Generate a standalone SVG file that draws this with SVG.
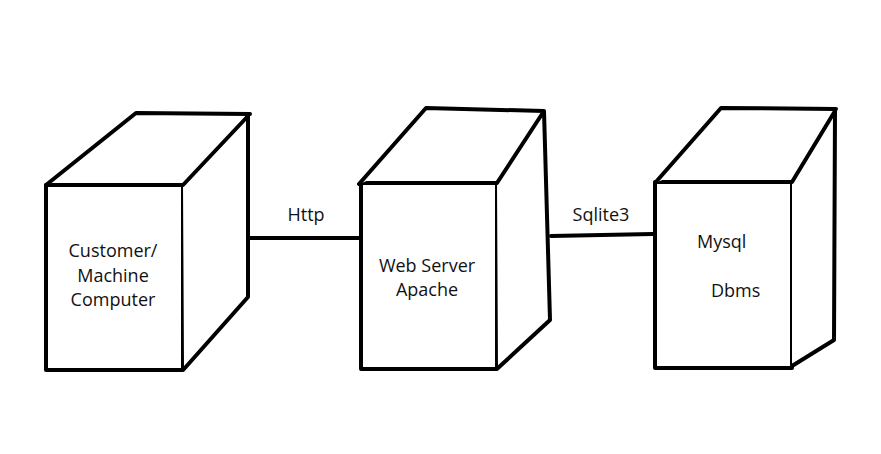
<svg xmlns="http://www.w3.org/2000/svg" width="881" height="454" viewBox="0 0 881 454">
<style>
.edge{fill:none;stroke:#000;stroke-width:4;stroke-linecap:round;stroke-linejoin:round}
.box{fill:#fff;stroke:#000;stroke-width:4;stroke-linejoin:round;stroke-linecap:round}
.t{font-family:"Open Sans","Liberation Sans",sans-serif;font-size:18px;fill:#111}
</style>
<rect width="881" height="454" fill="#fff"/>
<g id="connectors">
<line class="edge" x1="249" y1="238" x2="360" y2="238"/>
<line class="edge" x1="551" y1="236" x2="653" y2="234"/>
<text class="t" x="306" y="221" text-anchor="middle">Http</text>
<text class="t" x="601" y="221" text-anchor="middle">Sqlite3</text>
</g>
<g id="customer">
<rect class="box" x="46" y="185" width="137" height="185"/>
<path class="box" d="M46 185 L136 113 L250 114 M183 185 L248 116 L248 297 L184 369"/>
<text class="t" x="113" y="257" text-anchor="middle">Customer/</text>
<text class="t" x="113" y="282" text-anchor="middle">Machine</text>
<text class="t" x="113" y="306" text-anchor="middle">Computer</text>
</g>
<g id="webserver">
<rect class="box" x="361" y="183" width="136" height="186"/>
<path class="box" d="M359 184 L426 108 L544 111 M497 183 L544 111 L550 320 L498 368"/>
<text class="t" x="427" y="272" text-anchor="middle">Web Server</text>
<text class="t" x="427" y="296" text-anchor="middle">Apache</text>
</g>
<g id="mysql">
<rect class="box" x="655" y="182" width="137" height="186"/>
<path class="box" d="M655 183 L721 108 L836 109 M792 182 L835 111 L834 340 L792 366"/>
<text class="t" x="697" y="248">Mysql</text>
<text class="t" x="711" y="297">Dbms</text>
</g>
</svg>
